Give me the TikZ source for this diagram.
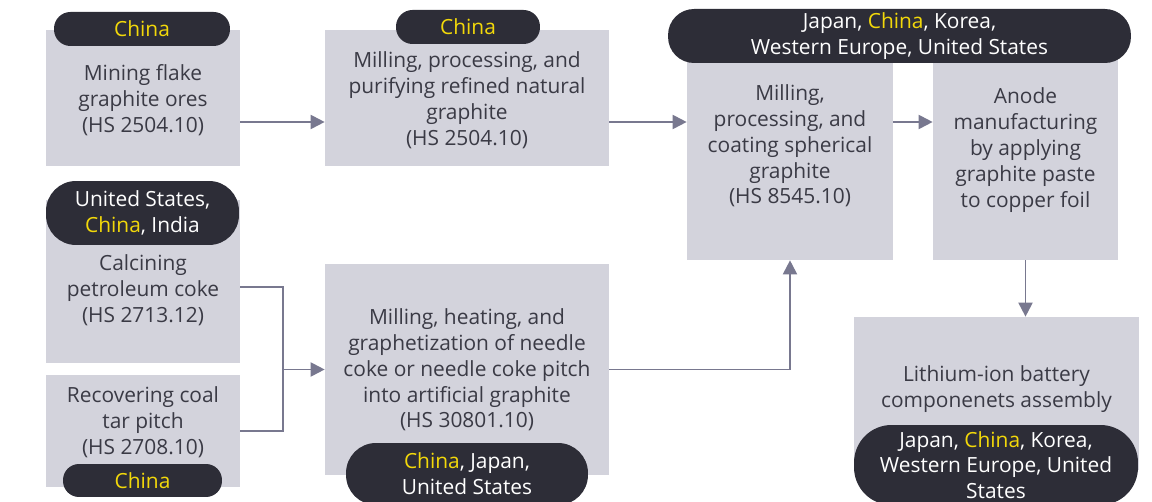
\documentclass[tikz,border=0pt]{standalone}
\usepackage{fontspec}
\setmainfont{Open Sans}
\usetikzlibrary{positioning,calc,arrows.meta}
\definecolor{boxgray}{HTML}{D3D3DC}
\definecolor{inkgray}{HTML}{3A3A45}
\definecolor{pilldark}{HTML}{2D2D37}
\definecolor{chinayel}{HTML}{F2D80A}
\definecolor{flowgray}{HTML}{78788F}
\newcommand{\cn}{\textcolor{chinayel}{China}}
\tikzset{
  stage/.style={fill=boxgray, inner sep=0pt, text=inkgray, align=center,
    font=\fontsize{11.9}{14.7}\selectfont},
  pill/.style={fill=pilldark, inner sep=0pt, text=white,
    align=center, font=\fontsize{11.9}{14.7}\selectfont},
  flow/.style={draw=flowgray, line width=1.1pt, -{Triangle[length=8pt,width=8pt]}},
  link/.style={draw=flowgray, line width=1.1pt}
}
\begin{document}
\begin{tikzpicture}[x=0.02cm, y=-0.02cm]
    \useasboundingbox (0,0) rectangle (1152,502);
    % boxes
    \node[stage, minimum width=3.88cm, minimum height=2.72cm] (mine) at (143,98) {};
    \node[stage, minimum width=5.68cm, minimum height=2.72cm] (purify) at (467,98) {};
    \node[stage, minimum width=4.12cm, minimum height=4.6cm] (sphere) at (790,145) {};
    \node[stage, minimum width=3.70cm, minimum height=4.6cm] (anode) at (1025.5,145) {};
    \node[stage, minimum width=3.88cm, minimum height=3.26cm] (calcine) at (143,281.5) {};
    \node[stage, minimum width=3.88cm, minimum height=2.24cm] (coal) at (143,431) {};
    \node[stage, minimum width=5.68cm, minimum height=4.22cm] (needle) at (467,369.5) {};
    \node[stage, minimum width=5.70cm, minimum height=3.06cm] (battery) at (996.5,393.5) {};

    \node[stage, fill=none] (minetxt) at (143,100) {Mining flake\\graphite ores\\(HS 2504.10)};
    \node[stage, fill=none] (purifytxt) at (467,100) {Milling, processing, and\\purifying refined natural\\graphite\\(HS 2504.10)};
    \node[stage, fill=none] (spheretxt) at (790,146) {Milling,\\processing, and\\coating spherical\\graphite\\(HS 8545.10)};
    \node[stage, fill=none] (anodetxt) at (1025.5,150) {Anode\\manufacturing\\by applying\\graphite paste\\to copper foil};
    \node[stage, fill=none] (calcinetxt) at (143,290) {Calcining\\petroleum coke\\(HS 2713.12)};
    \node[stage, fill=none] (coaltxt) at (143,422) {Recovering coal\\tar pitch\\(HS 2708.10)};
    \node[stage, fill=none] (needletxt) at (467,370) {Milling, heating, and\\graphetization of needle\\coke or needle coke pitch\\into artificial graphite\\(HS 30801.10)};
    \node[stage, fill=none] (batterytxt) at (996.5,389) {Lithium-ion battery\\componenets assembly};

    % countries
    \node[pill, rounded corners=0.33cm, minimum width=3.52cm, minimum height=0.68cm] (mineloc) at (142,29) {\cn};
    \node[pill, rounded corners=0.33cm, minimum width=2.88cm, minimum height=0.68cm] (purifyloc) at (468,27) {\cn};
    \node[pill, rounded corners=0.52cm, minimum width=9.26cm, minimum height=1.08cm] (sphereloc) at (899.5,36) {Japan, \cn, Korea,\\Western Europe, United States};
    \node[pill, rounded corners=0.6cm, minimum width=3.86cm, minimum height=1.28cm] (calcineloc) at (142.5,213) {United States,\\\cn, India};
    \node[pill, rounded corners=0.32cm, minimum width=3.18cm, minimum height=0.66cm] (coalloc) at (142.5,480.5) {\cn};
    \node[pill, rounded corners=0.6cm, minimum width=4.84cm, minimum height=1.24cm] (needleloc) at (467,474) {\cn, Japan,\\United States};
    \node[pill, rounded corners=0.75cm, minimum width=5.68cm, minimum height=1.60cm] (batteryloc) at (996,465) {Japan, \cn, Korea,\\Western Europe, United\\States};

    % flows
    \coordinate (join) at (283,369.5);
    \draw[flow] (mine.east |- 0,122) -- (purify.west |- 0,122);
    \draw[flow] (purify.east |- 0,122) -- (sphere.west |- 0,122);
    \draw[flow] (sphere.east |- 0,122) -- (anode.west |- 0,122);
    \draw[flow] (anode.south) -- (anode.south |- battery.north);
    \draw[link] ([yshift=-0.11cm]calcine.east) -| (join);
    \draw[link] (coal.east) -| (join);
    \draw[flow] (join) -- (needle.west);
    \draw[flow] (needle.east) -| (sphere.south);
\end{tikzpicture}
\end{document}
